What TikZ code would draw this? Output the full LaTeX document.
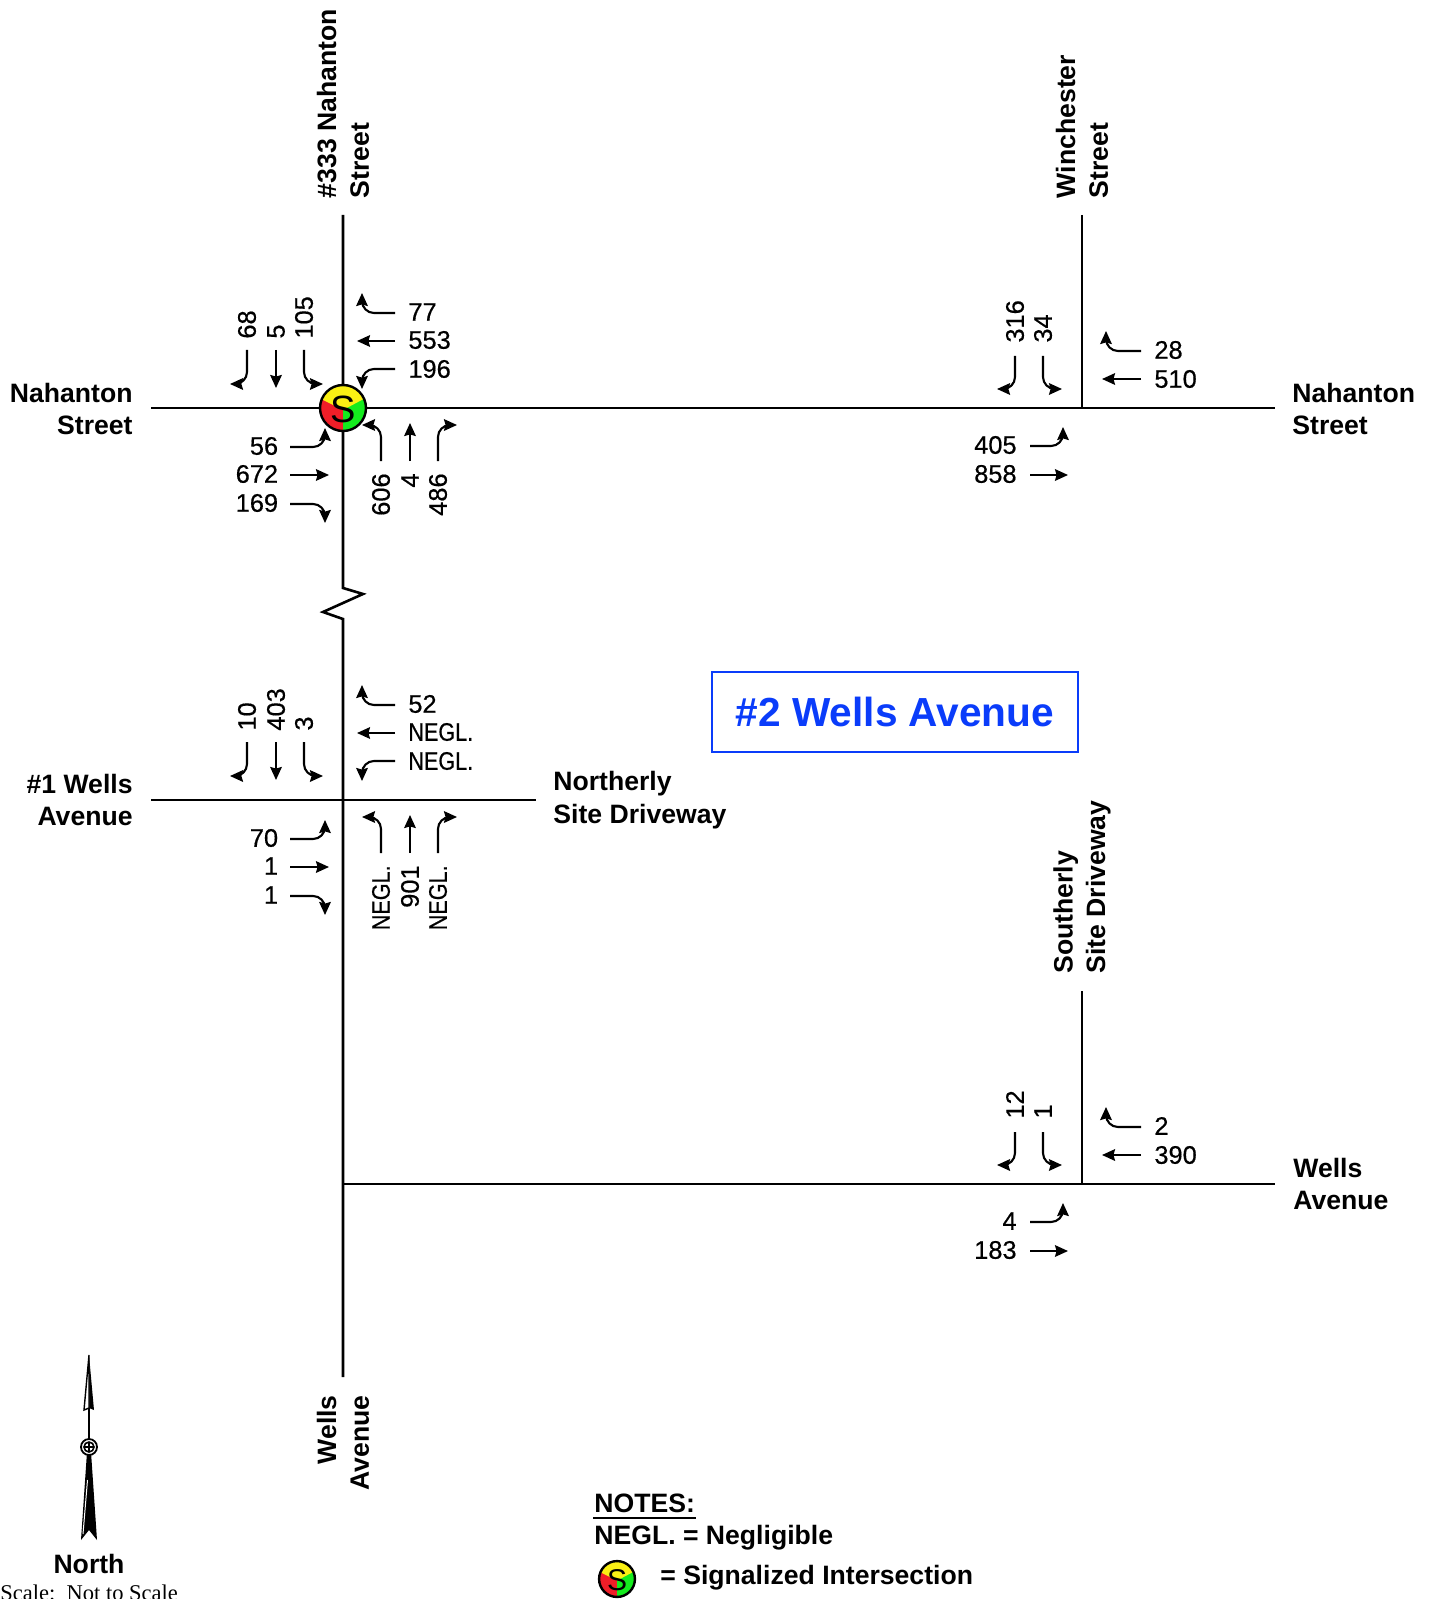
\documentclass[tikz,border=0pt]{standalone}
\usepackage{fontspec}
\usepackage{graphicx}
\setmainfont{Liberation Sans}
\newfontfamily\timesfont{Liberation Serif}
\newfontfamily\numfont[RawFeature={embolden=0.5}]{Liberation Sans}
\usetikzlibrary{arrows.meta}
\definecolor{sigred}{RGB}{240,30,40}
\definecolor{sigyellow}{RGB}{250,240,20}
\definecolor{siggreen}{RGB}{20,235,30}
\definecolor{titleblue}{RGB}{10,60,250}
\newcommand\negl{\scalebox{.85}[1]{NEGL.}}
\tikzset{
  road/.style={line width=1.3pt,black},
  mv/.style={line width=1.05pt,black,rounded corners=6pt,-{Stealth[length=6.5pt,width=5.8pt,inset=.8pt,quick]}},
  num/.style={inner sep=0pt,font=\numfont\fontsize{12.7}{15}\selectfont},
  lab/.style={inner sep=0pt,font=\fontsize{13.3}{16.3}\selectfont\bfseries},
}
% full four-leg turning block, names in scope prefix
\newcommand\sbthree[3]{%
  \draw[mv] (-96,-58) |- (-113,-24);
  \draw[mv] (-67,-58) -- (-67,-20);
  \draw[mv] (-39,-58) |- (-20,-24);
  \node[num,rotate=90,anchor=west] (sl) at (-96,-69) {#1};
  \node[num,rotate=90,anchor=west] (st) at (-67,-69) {#2};
  \node[num,rotate=90,anchor=west] (sr) at (-39,-69) {#3};}
\newcommand\wbthree[3]{%
  \draw[mv] (52,-95) -| (19,-115);
  \draw[mv] (52,-67) -- (14,-67);
  \draw[mv] (52,-39) -| (19,-19);
  \node[num,anchor=west] (wr) at (65,-96) {#1};
  \node[num,anchor=west] (wt) at (65,-68) {#2};
  \node[num,anchor=west] (wl) at (65,-39) {#3};}
\newcommand\ebthree[3]{%
  \draw[mv] (-53,39) -| (-18,20);
  \draw[mv] (-53,67) -- (-14,67);
  \draw[mv] (-53,96) -| (-18,115);
  \node[num,anchor=east] (el) at (-64.5,38) {#1};
  \node[num,anchor=east] (et) at (-64.5,66) {#2};
  \node[num,anchor=east] (er) at (-64.5,95) {#3};}
\newcommand\nbthree[3]{%
  \draw[mv] (38,53) |- (19,17);
  \draw[mv] (67,53) -- (67,15);
  \draw[mv] (95,53) |- (114,17);
  \node[num,rotate=90,anchor=east] (nl) at (38,65) {#1};
  \node[num,rotate=90,anchor=east] (nt) at (67,65) {#2};
  \node[num,rotate=90,anchor=east] (nr) at (95,65) {#3};}
% three-leg T at east side: SB left/right, WB right/thru, EB left/thru
\newcommand\teeblock[6]{%
  \draw[mv] (-67,-52) |- (-85,-19);
  \draw[mv] (-39,-52) |- (-20,-19);
  \node[num,rotate=90,anchor=west] (sl) at (-67,-65) {#1};
  \node[num,rotate=90,anchor=west] (sr) at (-39,-65) {#2};
  \draw[mv] (59,-57) -| (24,-77);
  \draw[mv] (59,-29) -- (20,-29);
  \node[num,anchor=west] (wr) at (72,-58) {#3};
  \node[num,anchor=west] (wt) at (72,-29) {#4};
  \draw[mv] (-52,38) -| (-19,19);
  \draw[mv] (-52,67) -- (-14,67);
  \node[num,anchor=east] (el) at (-65,37) {#5};
  \node[num,anchor=east] (et) at (-65,66) {#6};}
\newcommand\sigsym[5]{% name, x, y, scale, S size
  \begin{scope}[shift={(#2,#3)},scale=#4]
    \begin{scope}
      \clip (0,0) circle (23);
      \fill[sigred] (-25,-25) rectangle (0,25);
      \fill[siggreen] (0,-25) rectangle (25,25);
      \fill[sigyellow] (0,2) -- (-30,-13) -- (-30,-30) -- (30,-30) -- (30,-14) -- cycle;
    \end{scope}
    \draw[line width=1.2pt] (0,0) circle (23);
    \node[inner sep=0pt,font=\fontsize{#5}{#5}\selectfont] (#1) at (0,1) {S};
  \end{scope}}
\begin{document}
\begin{tikzpicture}[x=.5pt,y=-.5pt]
\useasboundingbox (0,0) rectangle (1433,1599);
\clip (0,0) rectangle (1433,1599);
% road end points
\coordinate (nw) at (151,408);
\coordinate (ne) at (1275,408);
\coordinate (a1) at (343,408);
\coordinate (a2) at (1082,408);
\coordinate (b1) at (343,800);
\coordinate (bw) at (151,800);
\coordinate (be) at (536,800);
\coordinate (c1) at (343,1184);
\coordinate (c2) at (1082,1184);
\coordinate (ce) at (1275,1184);
\coordinate (top1) at (343,215);
\coordinate (top2) at (1082,215);
\coordinate (top3) at (1082,991);
\coordinate (bot) at (343,1377);
\coordinate (z1) at (343,588);
\coordinate (z2) at (363,594);
\coordinate (z3) at (323,612);
\coordinate (z4) at (343,619);
\draw[road] (nw) -- (ne);
\draw[road] (bw) -- (be);
\draw[road] (c1) -- (ce);
\draw[road] (top1) -- (z1) -- (z2) -- (z3) -- (z4) -- (bot);
\draw[road] (top2) -- (a2);
\draw[road] (top3) -- (c2);
% turning movements
\begin{scope}[shift={(343,408)},name prefix=a-]
  \sbthree{68}{5}{105}\wbthree{77}{553}{196}\ebthree{56}{672}{169}\nbthree{606}{4}{486}
\end{scope}
\begin{scope}[shift={(343,800)},name prefix=b-]
  \sbthree{10}{403}{3}\wbthree{52}{\negl}{\negl}\ebthree{70}{1}{1}\nbthree{\negl}{901}{\negl}
\end{scope}
\begin{scope}[shift={(1082,408)},name prefix=c-]
  \teeblock{316}{34}{28}{510}{405}{858}
\end{scope}
\begin{scope}[shift={(1082,1184)},name prefix=d-]
  \teeblock{12}{1}{2}{390}{4}{183}
\end{scope}
\sigsym{sigA}{343}{408}{1}{19}
% street labels
\node[lab,align=right,anchor=east] (l1) at (133,409) {Nahanton\\Street};
\node[lab,align=left,anchor=west] (l2) at (1292,409) {Nahanton\\Street};
\node[lab,align=left,anchor=west,rotate=90] (l3) at (343,198.5) {\#333 Nahanton\\Street};
\node[lab,align=left,anchor=west,rotate=90] (l4) at (1082,198.5) {Winchester\\Street};
\node[lab,align=right,anchor=east] (l5) at (133,800) {\#1 Wells\\Avenue};
\node[lab,align=left,anchor=west] (l6) at (553,800) {Northerly\\Site Driveway};
\node[lab,align=left,anchor=west,rotate=90] (l7) at (1082,974) {Southerly\\Site Driveway};
\node[lab,align=left,anchor=west] (l8) at (1293,1184) {Wells\\Avenue};
\node[lab,align=right,anchor=east,rotate=90] (l9) at (343,1395) {Wells\\Avenue};
% title
\node[draw=titleblue,line width=.6pt,minimum width=183pt,minimum height=40pt,inner sep=0pt,text=titleblue,font=\fontsize{20.3}{22}\selectfont\bfseries] (title) at (895,712) {\#2 Wells Avenue};
% north arrow
\fill (89,1447) -- (89,1355) -- (94,1410) -- (89,1408) -- cycle;
\draw[line width=.7pt,fill=white] (89,1355) -- (84,1410) -- (89,1408) -- cycle;
\draw[line width=1.1pt] (89,1408) -- (89,1440);
\fill (87,1452) -- (91,1452) -- (97,1540) -- (89,1530) -- (81,1540) -- cycle;
\draw[white,line width=.5pt] (87.5,1480) -- (83,1534);
\draw[line width=.9pt,fill=white] (89,1447) circle (8);
\draw[line width=.8pt] (89,1447) circle (5);
\draw[line width=.7pt] (84,1447) -- (94,1447) (89,1442) -- (89,1452);
\node[lab] (northlab) at (89,1564) {North};
\node[inner sep=0pt,anchor=base west,font=\timesfont\fontsize{11.25}{14}\selectfont] (scalelab) at (0,1600) {Scale:\ \ Not to Scale};
% notes
\node[lab,anchor=west] (notes) at (594,1503) {NOTES:};
\coordinate (ul1) at (593,1518);
\coordinate (ul2) at (696,1518);
\draw[line width=.9pt] (ul1) -- (ul2);
\node[lab,anchor=west] (negl) at (594,1538) {NEGL. = Negligible};
\sigsym{sigB}{617}{1579}{.78}{15}
\node[lab,anchor=west] (siglab) at (660,1578) {= Signalized Intersection};
\end{tikzpicture}
\end{document}
